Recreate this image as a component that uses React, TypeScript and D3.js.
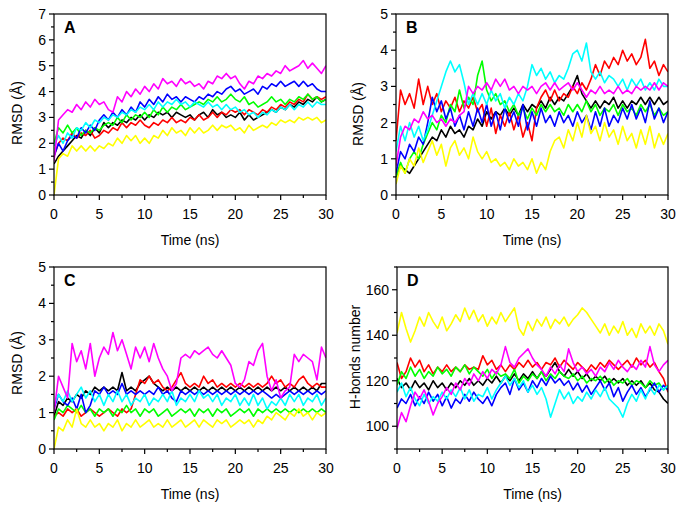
import React from "react";
import * as d3 from "d3";

// time grid (ns), one reading every 0.5 ns
const TIME: number[] = d3.range(0, 30.001, 0.5);

const SERIES_NAMES = ["black", "red", "green", "blue", "cyan", "magenta", "yellow"];
const SERIES_COLORS = ["#000000", "#ff0000", "#00ff00", "#0000ff", "#00ffff", "#ff00ff", "#ffff00"];

// ---------------- Panel A: RMSD (Å)
const A_black = [1.2,1.5,1.7,1.9,2.1,2.3,2.2,2.5,2.3,2.6,2.4,2.8,2.6,2.8,2.7,2.9,2.8,3.0,2.9,3.1,2.9,3.1,3.0,3.2,3.1,3.2,3.0,3.2,3.1,3.0,3.1,2.9,3.1,3.2,3.0,3.3,3.1,3.2,3.0,3.1,3.0,3.2,2.9,3.1,2.9,3.0,3.1,3.2,3.3,3.2,3.4,3.3,3.5,3.4,3.6,3.5,3.7,3.6,3.8,3.6,3.7];
const A_red = [1.5,2.0,2.2,2.1,2.4,2.2,2.4,2.3,2.5,2.2,2.3,2.5,2.4,2.6,2.5,2.8,2.6,2.8,2.7,2.9,2.7,2.6,2.8,2.7,2.9,2.8,3.0,2.8,2.9,2.8,3.0,2.9,3.1,2.9,3.0,3.2,3.0,3.2,3.1,3.3,3.2,3.3,3.1,3.3,3.2,3.1,3.3,3.2,3.4,3.3,3.5,3.4,3.6,3.5,3.7,3.6,3.9,3.7,3.8,3.7,3.8];
const A_green = [2.0,2.6,2.4,2.7,2.4,2.6,2.3,2.5,2.4,2.6,2.5,2.7,2.8,2.7,3.0,2.8,3.1,2.9,3.1,3.0,3.2,3.0,3.3,3.1,3.4,3.2,3.4,3.3,3.5,3.3,3.4,3.5,3.6,3.5,3.7,3.6,3.8,3.6,3.7,3.9,3.7,3.6,3.8,3.5,3.6,3.4,3.5,3.6,3.8,3.6,3.7,3.5,3.7,3.6,3.8,3.7,3.9,3.7,3.8,3.6,3.7];
const A_blue = [1.5,2.0,1.7,2.1,2.3,2.2,2.6,2.4,2.7,2.5,2.9,3.1,2.9,3.2,3.0,3.3,3.1,3.4,3.2,3.6,3.4,3.7,3.5,3.8,3.6,3.9,3.7,3.8,3.6,3.8,3.7,3.6,3.8,3.7,3.9,3.8,4.0,3.9,4.1,4.2,4.0,4.1,3.9,4.0,4.1,3.9,4.2,4.1,4.3,4.2,4.4,4.2,4.3,4.4,4.2,4.4,4.2,4.3,4.1,4.0,4.0];
const A_cyan = [1.9,2.3,2.0,2.4,2.2,2.6,2.5,2.8,2.6,2.9,2.8,3.0,2.9,3.1,3.0,3.2,3.1,3.3,3.2,3.4,3.3,3.5,3.3,3.6,3.4,3.6,3.5,3.7,3.5,3.6,3.4,3.6,3.5,3.4,3.6,3.4,3.5,3.3,3.5,3.3,3.4,3.2,3.3,3.1,3.2,3.0,3.2,3.1,3.3,3.2,3.4,3.3,3.5,3.3,3.5,3.4,3.6,3.4,3.6,3.5,3.5];
const A_magenta = [1.3,2.9,3.1,3.3,3.2,3.5,3.3,3.6,3.4,3.7,3.5,3.6,3.3,3.2,3.8,3.6,4.0,3.8,4.1,3.9,4.2,4.0,4.3,4.1,4.5,4.3,4.4,4.2,4.5,4.3,4.4,4.2,4.3,4.1,4.4,4.3,4.6,4.5,4.7,4.5,4.6,4.3,4.1,4.4,4.3,4.6,4.5,4.7,4.6,4.8,4.7,5.0,4.8,4.9,5.0,5.2,4.9,5.1,4.9,4.7,5.0];
const A_yellow = [0.0,1.4,1.6,1.5,1.9,1.7,1.9,1.7,1.9,1.7,1.9,1.8,2.0,1.9,2.2,2.0,2.3,2.1,2.3,2.0,2.2,2.0,2.3,2.2,2.5,2.3,2.6,2.4,2.5,2.3,2.6,2.4,2.6,2.4,2.5,2.7,2.5,2.7,2.6,2.7,2.5,2.6,2.4,2.7,2.5,2.6,2.7,2.6,2.8,2.7,2.9,2.8,2.9,2.8,3.0,2.9,3.0,2.9,3.0,2.8,2.9];

// ---------------- Panel B: RMSD (Å)
const B_black = [0.5,0.8,0.7,0.6,0.8,1.0,1.2,1.4,1.6,1.5,1.8,1.6,1.9,1.7,1.8,1.6,1.9,1.8,2.1,1.9,2.3,2.1,2.3,2.2,2.4,2.2,2.4,2.2,2.5,2.3,2.5,2.4,2.6,2.4,2.7,2.5,2.7,2.6,2.8,3.0,3.3,2.8,2.6,2.4,2.6,2.4,2.6,2.5,2.7,2.4,2.6,2.4,2.6,2.5,2.7,2.5,2.7,2.5,2.7,2.5,2.6];
const B_red = [1.5,2.9,2.5,2.8,2.4,3.2,2.5,3.0,2.5,2.8,2.3,2.6,2.4,2.7,2.3,2.6,2.4,2.7,2.3,2.5,1.9,2.4,1.7,2.2,1.9,2.3,1.8,2.2,1.6,2.0,1.5,2.4,2.7,2.9,2.6,2.9,2.6,2.8,2.7,3.0,2.8,3.1,2.9,3.2,3.6,3.3,3.7,3.5,3.8,3.6,4.0,3.7,3.9,3.6,3.8,4.3,3.5,3.7,3.3,3.6,3.4];
const B_green = [0.5,0.9,0.6,1.0,1.2,1.0,1.4,1.7,2.0,1.8,2.2,2.0,2.5,2.3,2.9,2.4,2.7,2.5,3.3,3.7,2.9,2.6,2.8,2.5,2.6,2.3,2.5,2.2,2.4,2.1,2.4,2.2,2.5,2.3,2.5,2.3,2.4,2.2,2.5,2.3,2.5,2.3,2.6,2.3,2.5,2.2,2.4,2.3,2.5,2.2,2.5,2.3,2.4,2.2,2.5,2.3,2.5,2.2,2.4,2.2,2.3];
const B_blue = [0.6,1.2,1.0,1.4,1.2,1.6,1.4,2.0,2.7,2.3,2.6,2.1,2.4,1.9,2.2,1.8,2.3,1.9,2.4,2.0,2.5,1.9,2.3,1.8,2.4,2.0,2.3,1.9,2.5,1.8,2.3,1.9,2.4,2.0,2.2,1.9,2.3,2.0,2.2,1.9,2.3,2.0,2.2,1.8,2.3,1.9,2.4,1.9,2.2,2.0,2.4,2.1,2.5,2.1,2.4,2.0,2.6,2.1,2.4,2.0,2.3];
const B_cyan = [1.2,1.9,1.5,2.0,1.6,1.9,1.5,1.8,2.2,2.6,3.0,3.4,3.7,3.4,3.6,3.1,2.5,2.8,2.5,2.8,2.5,2.9,2.6,2.8,2.4,2.7,2.5,2.8,2.6,3.0,3.6,3.3,3.5,3.2,3.4,3.1,3.3,3.2,3.5,3.9,4.0,3.7,4.2,3.4,3.2,3.4,3.1,3.3,3.2,3.0,3.2,2.9,3.2,3.0,3.2,2.9,3.1,2.9,3.2,3.0,3.0];
const B_magenta = [0.8,1.6,1.9,1.8,2.1,2.0,2.3,2.1,2.2,2.0,2.1,1.9,2.1,2.0,2.2,2.3,3.0,2.8,3.0,2.9,3.1,2.9,3.2,3.0,3.2,2.9,3.0,2.8,3.0,2.9,3.0,2.8,3.0,3.1,2.9,3.1,2.9,3.0,3.1,2.9,3.1,2.9,2.7,2.9,2.8,3.0,2.8,2.9,2.8,3.0,2.8,2.9,2.8,3.0,2.9,3.0,2.9,3.1,2.9,3.1,3.0];
const B_yellow = [0.3,0.8,0.6,1.0,0.8,1.3,0.9,1.2,1.5,1.1,1.4,0.8,1.3,1.5,1.1,1.3,1.0,1.6,1.2,1.0,1.2,0.9,1.0,0.8,0.9,0.7,1.0,0.8,0.9,0.7,1.0,0.6,0.9,0.7,1.2,1.5,1.6,1.3,1.8,1.5,2.0,1.6,2.2,1.7,1.9,1.5,2.0,1.6,1.8,1.4,1.9,1.5,1.7,1.3,1.8,1.4,1.9,1.3,1.7,1.4,1.7];

// ---------------- Panel C: RMSD (Å)
const C_black = [0.9,1.3,1.2,1.4,1.3,1.5,1.4,1.6,1.5,1.7,1.6,1.7,1.6,1.7,1.6,2.1,1.6,1.7,1.6,1.8,1.9,2.0,1.8,1.7,1.6,1.7,1.6,1.7,1.6,1.7,1.6,1.7,1.6,1.7,1.6,1.7,1.6,1.7,1.6,1.7,1.6,1.7,1.6,1.7,1.6,1.7,1.6,1.7,1.6,1.7,1.6,1.7,1.6,1.7,1.6,1.7,1.6,1.7,1.6,1.8,1.8];
const C_red = [0.9,1.0,0.9,1.1,1.0,1.1,0.9,1.0,1.1,1.0,0.9,1.0,1.1,1.0,0.9,1.1,1.0,1.1,1.5,1.9,1.8,2.0,1.8,1.9,1.7,1.6,1.7,1.9,2.1,1.8,1.7,1.8,1.7,2.0,1.8,1.9,1.7,1.8,1.7,1.8,1.7,1.8,1.7,1.8,1.7,1.8,1.7,1.8,2.0,1.8,1.9,1.7,1.8,1.7,1.9,2.0,1.8,1.7,1.8,1.7,1.7];
const C_green = [0.8,1.1,1.0,1.2,1.1,1.0,1.2,1.0,1.1,0.9,1.1,1.0,1.1,0.9,1.1,1.0,1.2,1.0,1.1,0.9,1.1,1.0,1.1,0.9,1.0,1.1,0.9,1.0,1.1,1.0,1.1,0.9,1.1,1.0,1.1,0.9,1.1,1.0,1.1,0.9,1.0,1.1,1.0,1.1,0.9,1.1,1.0,1.1,1.0,1.1,1.0,1.1,1.0,1.1,1.0,1.1,1.0,1.1,1.0,1.1,1.0];
const C_blue = [1.1,1.5,1.3,1.2,1.4,1.1,1.5,1.0,1.2,1.6,1.5,1.7,1.5,1.6,1.5,1.8,1.5,1.6,1.5,1.6,1.5,1.6,1.5,1.7,1.5,1.6,1.4,1.3,1.6,1.5,1.6,1.5,1.6,1.5,1.6,1.5,1.6,1.5,1.6,1.5,1.6,1.5,1.6,1.5,1.6,1.5,1.6,1.5,1.4,1.5,1.4,1.5,1.6,1.5,1.6,1.5,1.6,1.5,1.6,1.5,1.6];
const C_cyan = [1.2,1.5,1.3,1.6,1.3,1.5,1.7,1.4,1.6,1.3,1.5,1.2,1.5,1.3,1.6,1.3,1.5,1.2,1.4,1.3,1.5,1.2,1.4,1.3,1.5,1.3,1.6,1.2,1.4,1.3,1.5,1.3,1.6,1.4,1.5,1.3,1.5,1.2,1.4,1.3,1.5,1.2,1.4,1.2,1.5,1.2,1.4,1.1,1.3,1.2,1.4,1.2,1.5,1.3,1.5,1.2,1.4,1.3,1.5,1.2,1.4];
const C_magenta = [1.0,2.0,1.7,1.4,2.9,2.4,2.7,2.2,2.9,2.0,2.5,2.8,2.6,3.2,2.7,3.0,2.6,2.2,2.8,2.5,2.8,2.4,2.9,2.5,2.2,2.0,1.6,1.8,2.5,2.6,2.5,2.7,2.6,2.7,2.8,2.6,2.5,2.7,2.5,2.3,1.8,1.7,1.9,2.4,2.3,2.7,2.9,2.0,1.6,1.9,1.4,1.6,1.7,2.6,2.4,2.6,2.5,2.4,1.9,2.8,2.5];
const C_yellow = [0.0,0.6,0.5,0.8,0.6,1.1,0.7,0.6,0.8,0.6,0.7,0.5,0.7,0.6,0.8,0.5,0.7,0.6,0.8,0.6,0.7,0.8,0.6,0.7,0.6,0.8,0.6,0.7,0.8,0.6,0.7,0.8,0.6,0.8,0.7,0.6,0.8,0.7,0.8,0.6,0.7,0.8,0.7,0.8,0.6,0.8,0.7,0.9,0.8,1.0,0.9,0.8,1.0,0.9,1.1,0.9,1.0,0.8,1.0,0.9,1.0];

// ---------------- Panel D: H-bonds number
const D_black = [121,117,119,116,120,117,119,116,120,117,119,116,119,117,120,118,121,118,120,118,121,119,122,119,122,120,123,120,123,121,124,121,124,122,125,128,124,122,125,122,124,121,123,120,122,120,122,119,121,119,121,118,120,118,120,117,119,116,115,112,110];
const D_red = [128,121,124,130,126,129,124,127,123,126,124,127,124,126,124,127,125,126,125,131,127,129,125,127,124,127,125,128,126,129,126,128,125,128,127,130,126,129,127,125,128,126,124,127,125,128,126,129,127,125,127,129,126,130,127,129,126,128,124,121,115];
const D_green = [118,124,121,126,122,125,121,124,122,126,123,125,122,126,124,127,123,126,124,122,125,121,124,122,123,121,125,119,122,120,123,121,124,120,123,121,124,122,121,123,120,122,119,121,120,122,119,121,118,120,119,121,118,120,119,117,120,118,119,116,118];
const D_blue = [108,112,110,114,109,113,110,115,111,114,109,113,108,112,110,114,111,115,112,110,113,109,114,117,119,114,121,116,119,115,120,117,121,118,122,119,121,118,120,116,119,115,118,114,117,120,116,119,113,117,111,115,118,114,117,113,116,119,115,118,116];
const D_cyan = [115,119,113,117,112,109,114,110,113,111,115,112,116,113,117,112,116,111,114,113,117,112,116,119,122,118,121,117,120,115,118,114,117,112,104,110,116,112,115,110,113,111,115,112,116,113,117,112,110,108,104,110,114,111,116,112,117,114,118,116,118];
const D_magenta = [99,106,102,109,115,112,116,111,105,110,113,117,114,119,116,121,118,123,120,124,121,125,123,127,135,128,126,130,132,134,130,127,125,122,126,123,127,124,134,128,124,126,123,125,122,126,124,128,125,129,126,124,127,125,129,126,135,127,124,127,129];
const D_yellow = [141,150,143,137,142,148,144,150,146,143,148,142,145,149,146,152,147,151,146,149,144,148,145,150,146,149,152,143,140,146,142,147,144,148,143,147,145,148,144,147,149,152,150,147,144,141,145,140,144,141,146,140,143,139,145,141,144,140,145,142,136];

const X_TICKS = [0, 5, 10, 15, 20, 25, 30];
const X_MINOR = [2.5, 7.5, 12.5, 17.5, 22.5, 27.5];
const A_Y_TICKS = [0, 1, 2, 3, 4, 5, 6, 7];
const BC_Y_TICKS = [0, 1, 2, 3, 4, 5];
const D_Y_TICKS = [100, 120, 140, 160];
const D_Y_MINOR = [90, 110, 130, 150, 170];

type PanelDef = {
  label: string;
  yTitle: string;
  left: number; right: number; top: number; bottom: number;
  yDomain: [number, number];
  yTicks: number[];
  yMinor: number[];
  series: number[][];
  titleY: number;
  labelX: number;
};

const panels: PanelDef[] = [
  { label: "A", yTitle: "RMSD (Å)", left: 54, right: 326, top: 14, bottom: 195, yDomain: [0, 7], yTicks: A_Y_TICKS, yMinor: [0.5,1.5,2.5,3.5,4.5,5.5,6.5], series: [A_black, A_red, A_green, A_blue, A_cyan, A_magenta, A_yellow], titleY: 113, labelX: 22 },
  { label: "B", yTitle: "RMSD (Å)", left: 396, right: 668, top: 14, bottom: 195, yDomain: [0, 5], yTicks: BC_Y_TICKS, yMinor: [0.5,1.5,2.5,3.5,4.5], series: [B_black, B_red, B_green, B_blue, B_cyan, B_magenta, B_yellow], titleY: 114, labelX: 363 },
  { label: "C", yTitle: "RMSD (Å)", left: 54, right: 326, top: 267, bottom: 449, yDomain: [0, 5], yTicks: BC_Y_TICKS, yMinor: [0.5,1.5,2.5,3.5,4.5], series: [C_black, C_red, C_green, C_blue, C_cyan, C_magenta, C_yellow], titleY: 363, labelX: 22 },
  { label: "D", yTitle: "H-bonds number", left: 397, right: 668, top: 267, bottom: 449, yDomain: [90, 170], yTicks: D_Y_TICKS, yMinor: D_Y_MINOR, series: [D_black, D_red, D_green, D_blue, D_cyan, D_magenta, D_yellow], titleY: 357, labelX: 360 },
];

const FONT = "'Liberation Sans', Arial, sans-serif";

function Panel({ p, idx }: { p: PanelDef; idx: number }) {
  const x = d3.scaleLinear().domain([0, 30]).range([p.left, p.right]);
  const y = d3.scaleLinear().domain(p.yDomain).range([p.bottom, p.top]);
  const line = d3.line<number>().x((_, i) => x(TIME[i])).y((v) => y(v));
  const clipId = `clip${idx}`;
  return (
    <g>
      <defs>
        <clipPath id={clipId}>
          <rect x={p.left} y={p.top} width={p.right - p.left} height={p.bottom - p.top} />
        </clipPath>
      </defs>
      <g clipPath={`url(#${clipId})`}>
        {p.series.map((s, i) => (
          <path key={SERIES_NAMES[i]} d={line(s) || ""} fill="none" stroke={SERIES_COLORS[i]} strokeWidth={1.6} strokeLinejoin="round" />
        ))}
      </g>
      <rect x={p.left} y={p.top} width={p.right - p.left} height={p.bottom - p.top} fill="none" stroke="#000" strokeWidth={1.2} />
      {X_TICKS.map((t) => (
        <g key={`xt${t}`}>
          <line x1={x(t)} x2={x(t)} y1={p.bottom} y2={p.bottom + 5} stroke="#000" strokeWidth={1.2} />
          <text x={x(t)} y={p.bottom + 24} textAnchor="middle" fontSize={14} fontFamily={FONT}>{t}</text>
        </g>
      ))}
      {X_MINOR.map((t) => (
        <line key={`xm${t}`} x1={x(t)} x2={x(t)} y1={p.bottom} y2={p.bottom + 3} stroke="#000" strokeWidth={1.2} />
      ))}
      {p.yTicks.map((t) => (
        <g key={`yt${t}`}>
          <line x1={p.left - 5} x2={p.left} y1={y(t)} y2={y(t)} stroke="#000" strokeWidth={1.2} />
          <text x={p.left - 8} y={y(t) + 5} textAnchor="end" fontSize={14} fontFamily={FONT}>{t}</text>
        </g>
      ))}
      {p.yMinor.map((t) => (
        <line key={`ym${t}`} x1={p.left - 3} x2={p.left} y1={y(t)} y2={y(t)} stroke="#000" strokeWidth={1.2} />
      ))}
      <text x={(p.left + p.right) / 2} y={p.bottom + 50} textAnchor="middle" fontSize={14} fontFamily={FONT}>Time (ns)</text>
      <text transform={`translate(${p.labelX},${p.titleY}) rotate(-90)`} textAnchor="middle" fontSize={14} fontFamily={FONT}>{p.yTitle}</text>
      <text x={p.left + 10} y={p.top + 19} fontSize={16} fontWeight="bold" fontFamily={FONT}>{p.label}</text>
    </g>
  );
}

export default function App() {
  return (
    <svg width={683} height={510} style={{ position: "absolute", left: 0, top: 0, background: "#fff" }}>
      <rect x={0} y={0} width={683} height={510} fill="#fff" />
      {panels.map((p, i) => (
        <Panel key={p.label} p={p} idx={i} />
      ))}
    </svg>
  );
}
